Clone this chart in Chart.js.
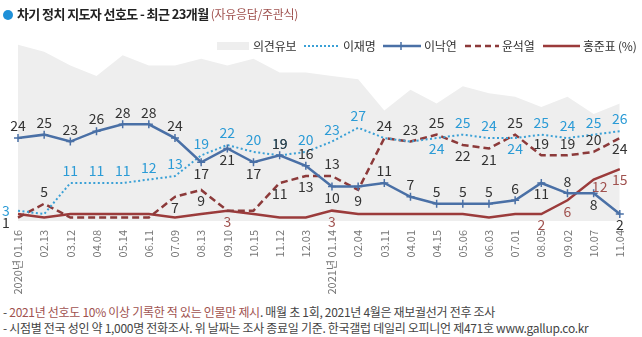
<!DOCTYPE html>
<html>
<head>
<meta charset="utf-8">
<script src="https://cdn.jsdelivr.net/npm/chart.js@4/dist/chart.umd.min.js"></script>
<style>
  html, body { margin: 0; padding: 0; background: #fff; }
  body { width: 642px; height: 337px; overflow: hidden; font-family: "Noto Sans CJK KR", "Noto Sans", sans-serif; }
  #wrap { position: relative; width: 642px; height: 337px; }
  #cbox { position: absolute; left: 0; top: 0; width: 642px; height: 300px; }
  #title { position: absolute; left: 3px; top: 4px; font-size: 13px; color: #222; font-weight: 700; letter-spacing: -0.6px; white-space: nowrap; }
  #title .dot { display: inline-block; width: 10px; height: 10px; border-radius: 50%; background: #1e90d8; margin-right: 4px; vertical-align: -1px; }
  #title .sub { font-weight: 400; font-size: 12px; color: #a0524f; letter-spacing: -0.3px; }
  #legend { position: absolute; top: 36px; left: 0; width: 642px; height: 20px; font-size: 12px; color: #333; letter-spacing: -0.2px; line-height: 20px; }
  #legend span { position: absolute; top: 0; white-space: nowrap; }
  #legend svg { position: absolute; top: 0; }
  .fn { position: absolute; left: 3px; font-size: 12px; color: #444; letter-spacing: -0.3px; white-space: nowrap; }
  .fn .red { color: #a0524f; }
</style>
</head>
<body>
<div id="wrap">
  <div id="cbox"><canvas id="c" width="642" height="300"></canvas></div>
  <div id="title"><span class="dot"></span>차기 정치 지도자 선호도 - 최근 23개월 <span class="sub">(자유응답/주관식)</span></div>
  <div id="legend">
    <svg style="left:217px" width="32" height="20"><rect x="0" y="6" width="32" height="8" fill="#eeeeee"/></svg>
    <span style="left:253px">의견유보</span>
    <svg style="left:304px" width="34" height="20"><line x1="0" y1="10" x2="34" y2="10" stroke="#3aa0d6" stroke-width="2" stroke-dasharray="2,2"/></svg>
    <span style="left:343px">이재명</span>
    <svg style="left:383px" width="38" height="20"><line x1="0" y1="10" x2="38" y2="10" stroke="#4a70a6" stroke-width="2.5"/><line x1="18" y1="6" x2="18" y2="14" stroke="#4a70a6" stroke-width="1.5"/></svg>
    <span style="left:424px">이낙연</span>
    <svg style="left:465px" width="34" height="20"><line x1="0" y1="10" x2="34" y2="10" stroke="#8c3a3a" stroke-width="2.5" stroke-dasharray="6,4"/></svg>
    <span style="left:502px">윤석열</span>
    <svg style="left:543px" width="37" height="20"><line x1="0" y1="10" x2="37" y2="10" stroke="#9b3b3b" stroke-width="2.5"/></svg>
    <span style="left:583px">홍준표 (%)</span>
  </div>
  <div class="fn" style="top:303px">- <span class="red">2021년 선호도 10% 이상 기록한 적 있는 인물만 제시</span>. 매월 초 1회, 2021년 4월은 재보궐선거 전후 조사</div>
  <div class="fn" style="top:319px">- 시점별 전국 성인 약 1,000명 전화조사. 위 날짜는 조사 종료일 기준. 한국갤럽 데일리 오피니언 제471호 www.gallup.co.kr</div>
</div>
<script>
// ---- data ----
const categories = ['2020년 01.16','02.13','03.12','04.08','05.14','06.11','07.09','08.13','09.10','10.15','11.12','12.03',
                    '2021년 01.14','02.04','03.11','04.01','04.15','05.06','06.03','07.01','08.05','09.02','10.07','11.04'];
const undecided = [51,49,45,42,48,45,45,47,45,47,43,43,42,41,32,38,34,39,37,36,33,36,31,34];
const leeJaemyung = [3,2,11,11,11,12,13,19,22,20,19,20,23,27,24,23,24,25,24,24,25,24,25,26];
const leeNakyon = [24,25,23,26,28,28,24,17,21,17,19,16,10,10,11,7,5,5,5,6,11,8,8,2];
const yoonSeokyeol = [1,5,1,1,1,1,7,9,3,3,11,13,13,9,24,23,25,22,21,25,19,19,20,24];
const hongJunpyo = [2,1,2,2,2,2,1,2,3,2,1,1,3,2,2,2,2,2,1,2,2,6,12,15];

// ---- label placement (style only) ----
const placeJM = ['l',null,'a','a','a','a','a','a','a','a','a','a','a','a',null,null,'b','a','a','b','a','a','a','a'];
const placeNY = ['a','a','a','a','a','a','a','b','b','b','a','a','b',null,'a','a','a','a','a','a','b','a','b','b'];
const placeYS = ['lb','a',null,null,null,null,'b','b',null,null,'b','b','a','b','a','a','a','b','b','a','a','a','a','b'];
const placeHJ = [null,null,null,null,null,null,null,null,'b',null,null,null,'b',null,null,null,null,null,null,null,'b','b','br','b'];

const FONT = '"Noto Sans CJK KR", "Noto Sans", sans-serif';

const labelPlugin = {
  id: 'pointLabels',
  afterDatasetsDraw(chart) {
    const ctx = chart.ctx;
    chart.data.datasets.forEach((ds, di) => {
      const place = ds.labelPlace;
      if (!place) return;
      const meta = chart.getDatasetMeta(di);
      ctx.save();
      ctx.font = '14px ' + FONT;
      ctx.fillStyle = ds.labelColor;
      ctx.textAlign = 'center';
      ctx.textBaseline = 'middle';
      meta.data.forEach((pt, i) => {
        const p = place[i];
        if (!p) return;
        let dx = 0, dy = 0;
        if (p === 'a') dy = -12;
        else if (p === 'b') dy = 11;
        else if (p === 'l') { dx = -12; dy = 0; }
        else if (p === 'lb') { dx = -12; dy = 5; }
        else if (p === 'br') { dx = 6; dy = 7; }
        ctx.fillText(String(ds.data[i]), pt.x + dx, pt.y + dy);
      });
      ctx.restore();
    });
  }
};

new Chart(document.getElementById('c'), {
  type: 'line',
  data: {
    labels: categories,
    datasets: [
      { label: '이재명', data: leeJaemyung, borderColor: '#3aa0d6', borderWidth: 2, borderDash: [2, 2.5],
        pointRadius: 0, tension: 0, fill: false, order: 2, labelPlace: placeJM, labelColor: '#2b9bd6' },
      { label: '이낙연', data: leeNakyon, borderColor: '#4a70a6', borderWidth: 2.5,
        pointStyle: 'cross', pointRadius: 4, pointBorderWidth: 1.5, pointBorderColor: '#4a70a6', tension: 0, fill: false, order: 1,
        labelPlace: placeNY, labelColor: '#333333' },
      { label: '윤석열', data: yoonSeokyeol, borderColor: '#8c3a3a', borderWidth: 2.5, borderDash: [7, 4],
        pointRadius: 0, tension: 0, fill: false, order: 3, labelPlace: placeYS, labelColor: '#333333' },
      { label: '홍준표 (%)', data: hongJunpyo, borderColor: '#9b3b3b', borderWidth: 2.5,
        pointRadius: 0, tension: 0, fill: false, order: 4, labelPlace: placeHJ, labelColor: '#a0524f' },
      { label: '의견유보', data: undecided, borderWidth: 0, borderColor: 'rgba(0,0,0,0)', backgroundColor: '#eeeeee',
        pointRadius: 0, tension: 0, fill: 'origin', order: 10 }
    ]
  },
  options: {
    responsive: false,
    animation: false,
    devicePixelRatio: 1,
    layout: { padding: { left: 18, right: 12, top: 31, bottom: 0 } },
    plugins: { legend: { display: false }, title: { display: false }, tooltip: { enabled: false } },
    scales: {
      x: {
        offset: false,
        grid: { display: false, drawTicks: false },
        border: { display: false },
        ticks: { autoSkip: false, maxRotation: 90, minRotation: 90, padding: 9, color: '#777',
                 font: { family: FONT, size: 11 } },
        afterFit: (s) => { s.height = 79; }
      },
      y: { display: false, min: 0, max: 55 }
    }
  },
  plugins: [labelPlugin]
});
</script>
</body>
</html>
